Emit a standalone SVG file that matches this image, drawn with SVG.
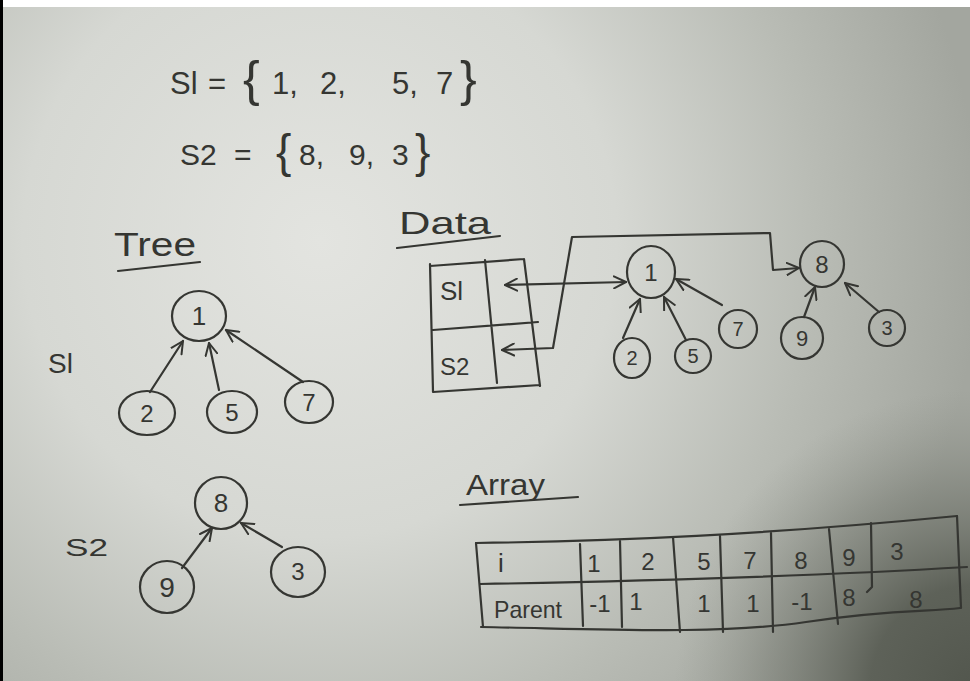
<svg xmlns="http://www.w3.org/2000/svg" width="970" height="681" viewBox="0 0 970 681">
<defs>
<radialGradient id="bg" cx="320" cy="240" r="660" gradientUnits="userSpaceOnUse">
<stop offset="0" stop-color="#e3e4e0"/>
<stop offset="0.45" stop-color="#d6d8d3"/>
<stop offset="0.75" stop-color="#b9bcb5"/>
<stop offset="1" stop-color="#a3a69f"/>
</radialGradient>
<radialGradient id="corner" cx="975" cy="690" r="300" gradientUnits="userSpaceOnUse">
<stop offset="0" stop-color="#52564d" stop-opacity="1"/>
<stop offset="0.35" stop-color="#5a5e55" stop-opacity="0.95"/>
<stop offset="0.7" stop-color="#70746b" stop-opacity="0.45"/>
<stop offset="1" stop-color="#8a8e85" stop-opacity="0"/>
</radialGradient>
<marker id="ah" viewBox="0 0 14 14" refX="13" refY="7" markerWidth="14" markerHeight="14" markerUnits="userSpaceOnUse" orient="auto-start-reverse">
<path d="M1,1 L13,7 L1,13" fill="none" stroke="#353632" stroke-width="2" stroke-linecap="round" stroke-linejoin="round"/>
</marker>
</defs>
<style>
.ink{fill:none;stroke:#353632;stroke-width:2.2;stroke-linecap:round;stroke-linejoin:round}
.nd{fill:none;stroke:#353632;stroke-width:2.2}
.t{font-family:"Liberation Sans",Arial,sans-serif;fill:#353632}
.arr{marker-end:url(#ah)}
.arr2{marker-start:url(#ah);marker-end:url(#ah)}
</style>
<rect x="0" y="0" width="970" height="681" fill="#ffffff"/>
<rect x="0" y="7" width="970" height="674" fill="url(#bg)"/>
<rect x="0" y="7" width="970" height="674" fill="url(#corner)"/>
<rect x="0" y="0" width="3" height="681" fill="#000000"/>

<g id="sets">
<text class="t" font-size="31" y="94"><tspan x="170">Sl</tspan><tspan x="208">=</tspan><tspan x="272">1,</tspan><tspan x="320">2,</tspan><tspan x="392">5,</tspan><tspan x="436">7</tspan></text>
<text class="t" font-size="50" y="96"><tspan x="243">{</tspan><tspan x="460">}</tspan></text>
<text class="t" font-size="30" y="165"><tspan x="180">S2</tspan><tspan x="234">=</tspan><tspan x="299">8,</tspan><tspan x="349">9,</tspan><tspan x="392">3</tspan></text>
<text class="t" font-size="46" y="167"><tspan x="276">{</tspan><tspan x="415">}</tspan></text>
</g>

<g id="tree-title">
<text class="t" font-size="34" x="114" y="256" textLength="82" lengthAdjust="spacingAndGlyphs">Tree</text>
<path class="ink" d="M118,271 L200,262"/>
</g>
<g id="label-tree-s1"><text class="t" font-size="28" x="48" y="373">Sl</text></g>
<g id="label-tree-s2"><text class="t" font-size="24" x="65" y="556" textLength="43" lengthAdjust="spacingAndGlyphs">S2</text></g>

<g id="t1-node1"><ellipse class="nd" cx="199" cy="316" rx="27" ry="25"/><text class="t" font-size="26" x="199" y="325" text-anchor="middle">1</text></g>
<g id="t1-node2"><ellipse class="nd" cx="147" cy="413" rx="28" ry="22"/><text class="t" font-size="24" x="147" y="422" text-anchor="middle">2</text></g>
<g id="t1-node5"><ellipse class="nd" cx="232" cy="412" rx="25" ry="21"/><text class="t" font-size="24" x="232" y="421" text-anchor="middle">5</text></g>
<g id="t1-node7"><ellipse class="nd" cx="309" cy="402" rx="24" ry="21"/><text class="t" font-size="24" x="309" y="411" text-anchor="middle">7</text></g>

<g id="t2-node8"><ellipse class="nd" cx="221" cy="503" rx="26" ry="26"/><text class="t" font-size="26" x="221" y="512" text-anchor="middle">8</text></g>
<g id="t2-node9"><ellipse class="nd" cx="167" cy="587" rx="27" ry="26"/><text class="t" font-size="28" x="167" y="597" text-anchor="middle">9</text></g>
<g id="t2-node3"><ellipse class="nd" cx="298" cy="572" rx="27" ry="25"/><text class="t" font-size="24" x="298" y="580" text-anchor="middle">3</text></g>

<g id="data-title">
<text class="t" font-size="32" x="399" y="234" textLength="92" lengthAdjust="spacingAndGlyphs">Data</text>
<path class="ink" d="M397,248 L500,236"/>
</g>
<g id="data-table">
<path class="ink" d="M430,264 L433,392 M430,266 L524,259 M524,259 L540,386 M433,392 L540,385 M433,330 L538,322 M485,260 L497,383"/>
<text class="t" font-size="26" x="440" y="300">Sl</text>
<text class="t" font-size="24" x="440" y="375">S2</text>
</g>

<g id="d-node1"><ellipse class="nd" cx="651" cy="272" rx="24" ry="26"/><text class="t" font-size="24" x="651" y="281" text-anchor="middle">1</text></g>
<g id="d-node2"><ellipse class="nd" cx="632" cy="358" rx="18" ry="20"/><text class="t" font-size="20" x="632" y="365" text-anchor="middle">2</text></g>
<g id="d-node5"><ellipse class="nd" cx="693" cy="356" rx="18" ry="17"/><text class="t" font-size="20" x="693" y="363" text-anchor="middle">5</text></g>
<g id="d-node7"><ellipse class="nd" cx="738" cy="329" rx="19" ry="19"/><text class="t" font-size="20" x="738" y="336" text-anchor="middle">7</text></g>
<g id="d-node8"><ellipse class="nd" cx="822" cy="264" rx="22" ry="23"/><text class="t" font-size="24" x="822" y="273" text-anchor="middle">8</text></g>
<g id="d-node9"><ellipse class="nd" cx="802" cy="338" rx="21" ry="21"/><text class="t" font-size="22" x="802" y="346" text-anchor="middle">9</text></g>
<g id="d-node3"><ellipse class="nd" cx="887" cy="328" rx="18" ry="18"/><text class="t" font-size="20" x="887" y="335" text-anchor="middle">3</text></g>

<g id="array-title">
<text class="t" font-size="30" x="466" y="495" textLength="79" lengthAdjust="spacingAndGlyphs">Array</text>
<path class="ink" d="M460,505 L578,497"/>
</g>
<g id="array-table">
<path class="ink" d="M476,543 C620,541 760,535 957,516"/>
<path class="ink" d="M480,584 C650,581 800,577 967,567"/>
<path class="ink" d="M481,627 C600,629 720,635 806,622 S930,612 960,608"/>
<path class="ink" d="M476,543 L483,627 M957,516 L961,608 M580,544 L583,626 M620,541 L622,627 M673,537 L680,632 M720,536 L723,632 M771,533 L773,632 M829,529 L838,624 M871,523 L872,587 L867,592"/>
<g font-size="24" class="t">
<text x="498" y="572" font-size="26">i</text>
<text x="594" y="572" text-anchor="middle">1</text>
<text x="648" y="570" text-anchor="middle">2</text>
<text x="704" y="570" text-anchor="middle">5</text>
<text x="750" y="569" text-anchor="middle">7</text>
<text x="801" y="569" text-anchor="middle">8</text>
<text x="849" y="566" text-anchor="middle">9</text>
<text x="897" y="560" text-anchor="middle">3</text>
<text x="494" y="618" textLength="68" lengthAdjust="spacingAndGlyphs">Parent</text>
<text x="600" y="612" text-anchor="middle">-1</text>
<text x="636" y="610" text-anchor="middle">1</text>
<text x="704" y="612" text-anchor="middle">1</text>
<text x="753" y="612" text-anchor="middle">1</text>
<text x="802" y="610" text-anchor="middle">-1</text>
<text x="849" y="606" text-anchor="middle">8</text>
<text x="916" y="608" text-anchor="middle">8</text>
</g>
</g>

<g id="connectors">
<path class="ink arr" d="M150,392 L183,341"/>
<path class="ink arr" d="M219,390 L209,343"/>
<path class="ink arr" d="M303,382 L226,330"/>
<path class="ink arr" d="M182,568 L212,528"/>
<path class="ink arr" d="M282,547 L241,523"/>
<path class="ink arr2" d="M505,285 L626,282"/>
<path class="ink arr2" d="M502,350 L553,348 L572,237 L770,233 L773,270 L799,268"/>
<path class="ink arr" d="M623,338 L640,299"/>
<path class="ink arr" d="M686,340 L664,297"/>
<path class="ink arr" d="M722,305 L676,279"/>
<path class="ink arr" d="M804,317 L815,287"/>
<path class="ink arr" d="M879,312 L845,283"/>
</g>
</svg>
